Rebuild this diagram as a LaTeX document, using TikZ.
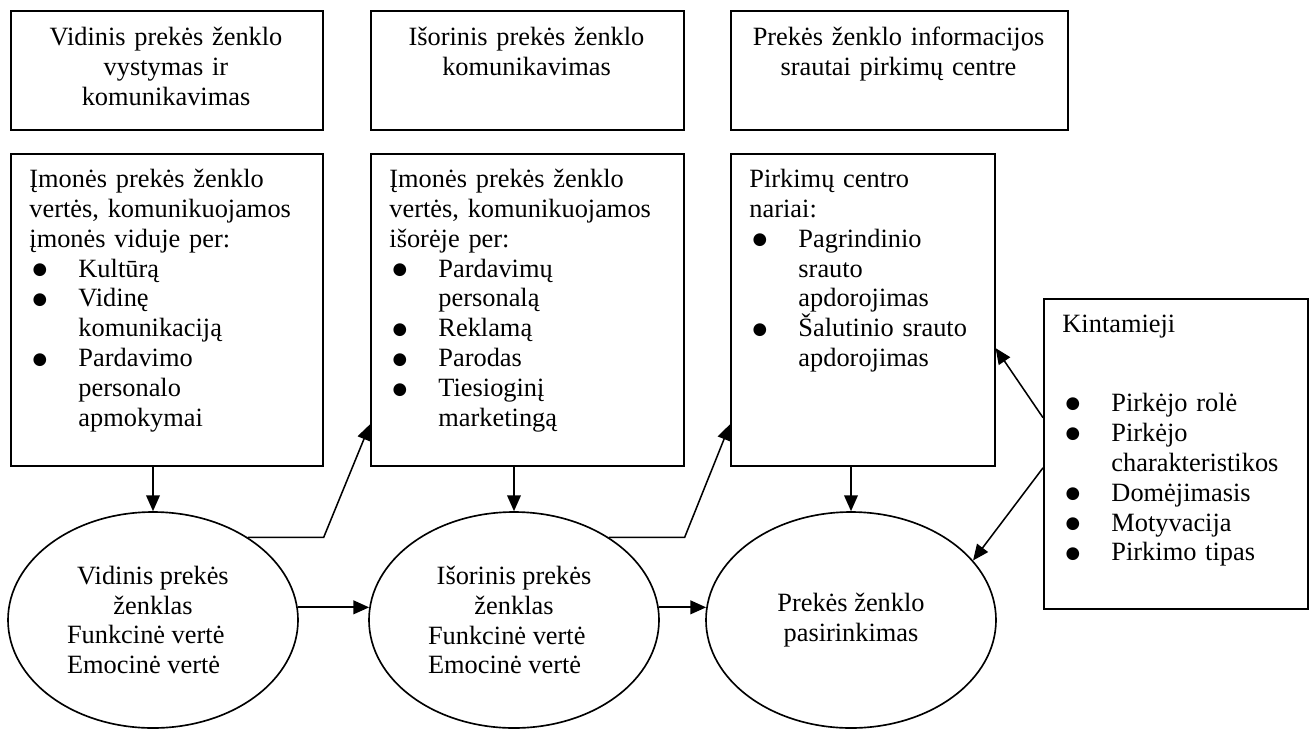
\documentclass[tikz,border=0pt]{standalone}
\usepackage{fontspec}
\setmainfont{Liberation Serif}
\newfontfamily\dotfont{DejaVu Sans}
\usetikzlibrary{shapes.geometric,arrows.meta,calc}

% bullet item start and continuation indent
\newcommand\bul{\hspace*{1.4pt}\makebox[20.9pt][l]{\raisebox{1.2pt}{\dotfont\fontsize{7.6pt}{7.6pt}\selectfont ●}}}
\newcommand\cnt{\hspace*{22.3pt}}
% fixes the height of the first line so the baseline lands 10pt below the node top
\newcommand\fst{\rule{0pt}{10pt}}

\begin{document}
\begin{tikzpicture}[x=0.455pt,y=-0.455pt,
  frame/.style={draw, line width=0.75pt, anchor=north west, inner sep=0pt},
  txt/.style={inner sep=0pt, font=\fontsize{12pt}{13.6pt}\selectfont},
  ctxt/.style={txt, anchor=north, align=center, text width=140pt},
  ltxt/.style={txt, anchor=north west, align=left, text width=135pt},
  oval/.style={draw, ellipse, line width=0.75pt, minimum width=131.95pt,
    minimum height=98.28pt, inner sep=0pt, align=center,
    font=\fontsize{12pt}{13.6pt}\selectfont},
  arr/.style={line width=0.7pt, -{Triangle[length=7.2pt,width=6.2pt]}},
  thickarr/.style={arr, line width=1pt},
]
\path[fill=white] (0,0) rectangle (1314,729);
\useasboundingbox (0,0) rectangle (1314,729);

% top row: headings
\node[frame, minimum width=141.96pt, minimum height=54.15pt] (T1) at (10,10) {};
\node[frame, minimum width=142.4pt, minimum height=54.15pt] (T2) at (370,10) {};
\node[frame, minimum width=153.3pt, minimum height=54.15pt] (T3) at (730,10) {};
\node[ctxt] (T1t) at (166,23) {\fst Vidinis prekės ženklo\\vystymas ir\\komunikavimas};
\node[ctxt] (T2t) at (526.5,23) {\fst Išorinis prekės ženklo\\komunikavimas};
\node[ctxt, text width=150pt] (T3t) at (898.5,23) {\fst Prekės ženklo informacijos\\srautai pirkimų centre};

% middle row: content boxes
\node[frame, minimum width=141.96pt, minimum height=141.96pt] (M1) at (10,153) {};
\node[frame, minimum width=142.4pt, minimum height=141.96pt] (M2) at (370,153) {};
\node[frame, minimum width=120.1pt, minimum height=141.96pt] (M3) at (730,153) {};
\node[frame, minimum width=120.1pt, minimum height=141.05pt] (K) at (1043,298) {};

\node[ltxt] (M1t) at (29,165) {\fst Įmonės prekės ženklo\\
vertės, komunikuojamos\\
įmonės viduje per:\\
\bul Kultūrą\\
\bul Vidinę\\
\cnt komunikaciją\\
\bul Pardavimo\\
\cnt personalo\\
\cnt apmokymai};

\node[ltxt] (M2t) at (389,165) {\fst Įmonės prekės ženklo\\
vertės, komunikuojamos\\
išorėje per:\\
\bul Pardavimų\\
\cnt personalą\\
\bul Reklamą\\
\bul Parodas\\
\bul Tiesioginį\\
\cnt marketingą};

\node[ltxt] (M3t) at (749,165) {\fst Pirkimų centro\\
nariai:\\
\bul Pagrindinio\\
\cnt srauto\\
\cnt apdorojimas\\
\bul Šalutinio srauto\\
\cnt apdorojimas};

\node[ltxt] (Kt) at (1062,310) {\fst Kintamieji\\[22.4pt]
\bul Pirkėjo rolė\\
\bul Pirkėjo\\
\cnt charakteristikos\\
\bul Domėjimasis\\
\bul Motyvacija\\
\bul Pirkimo tipas};

% bottom row: brand ellipses
\node[oval] (E1) at (153,620) {Vidinis prekės\\ženklas\\\mbox{Funkcinė vertė\hspace{6.6pt}}\\\mbox{Emocinė vertė\hspace{8.6pt}}};
\node[oval] (E2) at (514,620) {Išorinis prekės\\ženklas\\\mbox{Funkcinė vertė\hspace{6.6pt}}\\\mbox{Emocinė vertė\hspace{8.6pt}}};
\node[oval] (E3) at (851,620) {Prekės ženklo\\pasirinkimas};

% connectors
\draw[arr] (M1.south -| E1.north) -- (E1.north);
\draw[arr] (M2.south -| E2.north) -- (E2.north);
\draw[arr] (M3.south -| E3.north) -- (E3.north);
\draw[thickarr] (E1.5) -- (E2.175);
\draw[thickarr] (E2.5) -- (E3.175);
\draw[arr] (E1.41) -- (E1.41 -| M1.east) -- ($(M2.north west)!0.865!(M2.south west)$);
\draw[arr] (E2.41) -- (E2.41 -| M2.east) -- ($(M3.north west)!0.865!(M3.south west)$);
\draw[arr] ($(K.north west)!0.384!(K.south west)$) -- ($(M3.north east)!0.622!(M3.south east)$);
\draw[arr] ($(K.north west)!0.545!(K.south west)$) -- (E3.26);
\end{tikzpicture}
\end{document}
